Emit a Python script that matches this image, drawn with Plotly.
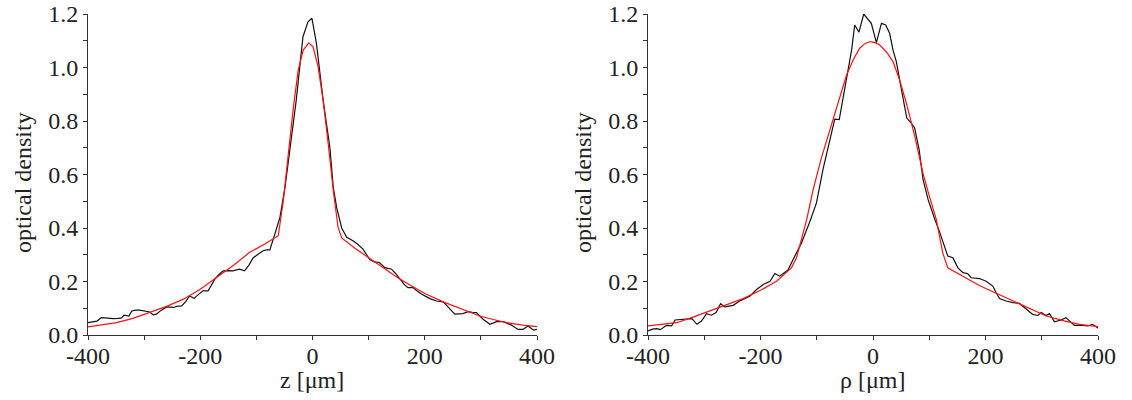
import plotly.graph_objects as go

# ---------------- data ----------------
z_data_x = [-400, -392, -384, -376, -366, -355, -346, -340, -336, -327, -322, -315, -308, -296, -290,
            -284, -278, -270, -260, -248, -240, -233, -226, -219, -211, -203, -195, -186, -180, -174,
            -166, -159, -150, -142, -130, -121, -113, -106, -97, -88, -82, -76, -67, -58, -49, -40,
            -29, -17, -8, -1, 7, 19, 31, 37, 43, 52, 61, 72, 80, 90, 102, 110, 119, 129, 141, 148,
            155.5, 163, 170, 179, 186, 194, 209, 221, 233, 242, 253.5, 268, 277, 285, 292, 304, 316,
            328, 340, 354.5, 366, 375, 384, 394, 400]
z_data_y = [0.046, 0.048, 0.052, 0.065, 0.063, 0.061, 0.062, 0.064, 0.074, 0.071, 0.090, 0.093, 0.093,
            0.087, 0.086, 0.075, 0.078, 0.092, 0.105, 0.103, 0.108, 0.109, 0.125, 0.146, 0.137, 0.152,
            0.165, 0.165, 0.188, 0.209, 0.228, 0.240, 0.241, 0.240, 0.246, 0.240, 0.262, 0.288, 0.302,
            0.315, 0.318, 0.318, 0.378, 0.440, 0.552, 0.690, 0.877, 1.115, 1.171, 1.184, 1.090, 0.877,
            0.700, 0.552, 0.477, 0.400, 0.365, 0.352, 0.340, 0.321, 0.282, 0.273, 0.271, 0.252, 0.246,
            0.230, 0.209, 0.190, 0.177, 0.177, 0.165, 0.153, 0.136, 0.127, 0.124, 0.102, 0.078, 0.080,
            0.087, 0.085, 0.084, 0.059, 0.040, 0.050, 0.050, 0.037, 0.021, 0.021, 0.034, 0.018, 0.021]

z_fit_x = [-400, -375, -349, -320, -290, -260, -230, -200, -171, -140, -112, -85, -61, -52, -43, -34,
           -25.5, -16.6, -6.6, 1, 10, 19, 28, 37, 45.6, 52, 75, 99, 125, 150, 175, 200, 233, 265, 298,
           322, 346, 375, 400]
z_fit_y = [0.030, 0.037, 0.046, 0.062, 0.084, 0.107, 0.134, 0.171, 0.215, 0.262, 0.309, 0.340, 0.371,
           0.502, 0.678, 0.852, 0.990, 1.065, 1.092, 1.077, 1.002, 0.877, 0.715, 0.540, 0.402, 0.363,
           0.325, 0.290, 0.252, 0.217, 0.185, 0.155, 0.124, 0.097, 0.071, 0.058, 0.046, 0.037, 0.031]

rho_data_x = [-400, -392, -384.5, -378, -367, -358, -352, -337, -322, -313, -305, -296, -287, -279, -271,
              -263.5, -248.5, -237, -228, -219, -207, -195, -183, -174.5, -166, -151, -142, -127, -112,
              -100.5, -89, -77, -68, -60, -53, -47, -38, -32.5, -25, -16.5, -10.7, -3, 6, 15, 22.5, 29.6,
              35.5, 41.5, 47.4, 53, 60, 68, 74, 82, 89, 98, 103.6, 110, 117, 127, 133, 142, 151, 160,
              168.6, 174.6, 189.4, 201, 213, 219, 225, 236.8, 248.6, 260.4, 272, 284, 293, 299, 307.5,
              313.7, 322.6, 334.4, 343, 358, 373, 382, 390.6, 400]
rho_data_y = [0.015, 0.022, 0.024, 0.020, 0.036, 0.034, 0.056, 0.058, 0.061, 0.040, 0.052, 0.080, 0.074,
              0.084, 0.117, 0.105, 0.111, 0.127, 0.135, 0.145, 0.170, 0.189, 0.201, 0.230, 0.220, 0.243,
              0.282, 0.345, 0.425, 0.494, 0.618, 0.730, 0.807, 0.805, 0.891, 0.960, 1.066, 1.159, 1.132,
              1.200, 1.184, 1.165, 1.093, 1.165, 1.159, 1.128, 1.066, 1.022, 0.954, 0.891, 0.811, 0.792,
              0.774, 0.693, 0.581, 0.506, 0.469, 0.432, 0.394, 0.332, 0.295, 0.289, 0.251, 0.233, 0.229,
              0.214, 0.211, 0.201, 0.183, 0.158, 0.136, 0.127, 0.121, 0.118, 0.098, 0.077, 0.073, 0.084,
              0.073, 0.080, 0.049, 0.056, 0.065, 0.036, 0.036, 0.034, 0.040, 0.026]

rho_fit_x = [-400, -375, -349, -320, -290, -260, -231, -200, -171.5, -145, -136, -118, -106.5, -92, -77,
             -62, -47, -35, -23.6, -14, -4.7, 4, 12, 24, 35.5, 47, 59.3, 74, 88.8, 100, 112.5, 115.4,
             124, 133, 160, 189, 220, 248.6, 280, 308, 340, 367, 400]
rho_fit_y = [0.034, 0.040, 0.046, 0.067, 0.090, 0.112, 0.136, 0.167, 0.201, 0.251, 0.289, 0.430, 0.543,
             0.660, 0.767, 0.870, 0.972, 1.030, 1.072, 1.090, 1.097, 1.093, 1.084, 1.058, 1.022, 0.955,
             0.867, 0.745, 0.605, 0.520, 0.432, 0.400, 0.307, 0.251, 0.220, 0.185, 0.155, 0.127, 0.098,
             0.071, 0.053, 0.040, 0.031]

x_tick_vals = [-400, -200, 0, 200, 400]
x_tick_text = ["-400", "-200", "0", "200", "400"]
x_minor_vals = [-300, -100, 100, 300]
y_tick_vals = [0.0, 0.2, 0.4, 0.6, 0.8, 1.0, 1.2]
y_tick_text = ["0.0", "0.2", "0.4", "0.6", "0.8", "1.0", "1.2"]
y_minor_vals = [0.1, 0.3, 0.5, 0.7, 0.9, 1.1]

x_titles = ["z [μm]", "ρ [μm]"]
y_title = "optical density"

# ---------------- figure ----------------
W, H = 1132, 400
FONT = "Liberation Serif, Times New Roman, serif"
TXT = "#222222"
AX = "#333333"

fig = go.Figure()
fig.add_trace(go.Scatter(x=z_data_x, y=z_data_y, mode="lines", line=dict(color="#111111", width=1.2),
                         xaxis="x", yaxis="y", showlegend=False))
fig.add_trace(go.Scatter(x=z_fit_x, y=z_fit_y, mode="lines", line=dict(color="#ff1010", width=1.2),
                         xaxis="x", yaxis="y", showlegend=False))
fig.add_trace(go.Scatter(x=rho_data_x, y=rho_data_y, mode="lines", line=dict(color="#111111", width=1.2),
                         xaxis="x2", yaxis="y2", showlegend=False))
fig.add_trace(go.Scatter(x=rho_fit_x, y=rho_fit_y, mode="lines", line=dict(color="#ff1010", width=1.2),
                         xaxis="x2", yaxis="y2", showlegend=False))

def xaxis_cfg(domain, anchor):
    return dict(domain=domain, anchor=anchor, range=[-400, 400], showgrid=False, zeroline=False,
                automargin=False, ticklabeloverflow="allow",
                showline=True, linecolor=AX, linewidth=1, ticks="outside", ticklen=4, tickcolor=AX,
                tickmode="array", tickvals=x_tick_vals, ticktext=x_tick_text, ticklabelstandoff=-5,
                minor=dict(tickmode="array", tickvals=x_minor_vals, ticks="outside", ticklen=4, tickcolor=AX),
                tickfont=dict(family=FONT, size=24, color=TXT), fixedrange=True)

def yaxis_cfg(anchor):
    return dict(domain=[0, 1], anchor=anchor, range=[0, 1.2], showgrid=False, zeroline=False,
                automargin=False, ticklabeloverflow="allow",
                showline=True, linecolor=AX, linewidth=1, ticks="outside", ticklen=4, tickcolor=AX,
                tickmode="array", tickvals=y_tick_vals, ticktext=y_tick_text,
                minor=dict(tickmode="array", tickvals=y_minor_vals, ticks="outside", ticklen=4, tickcolor=AX),
                tickfont=dict(family=FONT, size=24, color=TXT), fixedrange=True)

x1_dom = [88 / W, 537 / W]
x2_dom = [648 / W, 1098 / W]
TOP = 14
BOT = 335
plot_h = BOT - TOP

fig.update_layout(
    template="none",
    width=W, height=H,
    margin=dict(l=0, r=0, t=TOP, b=H - BOT),
    paper_bgcolor="white", plot_bgcolor="white",
    xaxis=xaxis_cfg(x1_dom, "y"),
    yaxis=yaxis_cfg("x"),
    xaxis2=xaxis_cfg(x2_dom, "y2"),
    yaxis2=yaxis_cfg("x2"),
)

anns = []
for dom, xt, ytx in [(x1_dom, x_titles[0], 23), (x2_dom, x_titles[1], 583)]:
    cx = (dom[0] + dom[1]) / 2
    anns.append(dict(text=xt, x=cx, y=(BOT - 380) / plot_h, xref="paper", yref="paper",
                     xanchor="center", yanchor="middle", showarrow=False,
                     font=dict(family=FONT, size=24, color=TXT)))
    anns.append(dict(text=y_title, x=ytx / W, y=(BOT - 183) / plot_h, xref="paper",
                     yref="paper", xanchor="center", yanchor="middle", textangle=-90, showarrow=False,
                     font=dict(family=FONT, size=24, color=TXT)))
fig.update_layout(annotations=anns)

fig.write_html("out.html", config={"displayModeBar": False},
               post_script="document.body.style.margin='0px';")
